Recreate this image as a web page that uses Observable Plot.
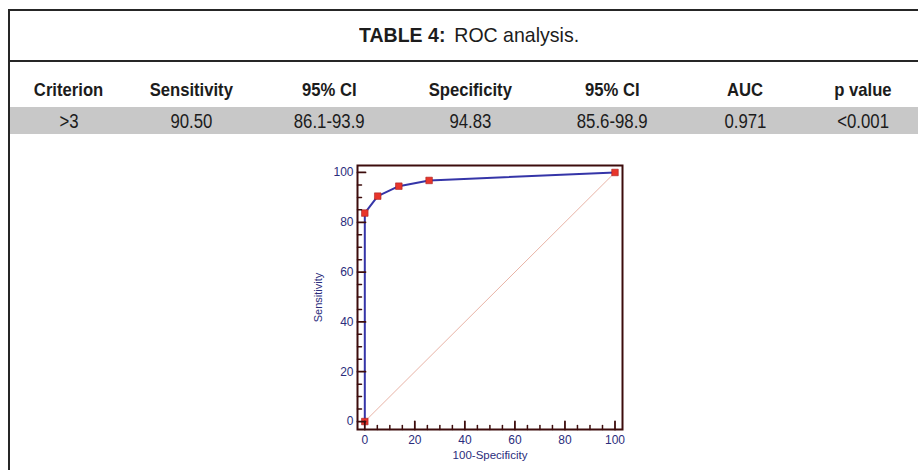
<!DOCTYPE html>
<html>
<head>
<meta charset="utf-8">
<script src="https://cdn.jsdelivr.net/npm/d3@7"></script>
<script src="https://cdn.jsdelivr.net/npm/@observablehq/plot@0.6"></script>
<style>
  html, body { margin: 0; padding: 0; background: #fff; }
  #page { position: relative; width: 918px; height: 470px; overflow: hidden; background: #fff;
          font-family: "Liberation Sans", Arial, Helvetica, sans-serif; color: #1c1c1c; }
  .hline { position: absolute; left: 8px; width: 910px; height: 2px; background: #262626; }
  .vline { position: absolute; left: 8px; top: 9px; width: 2px; height: 461px; background: #262626; }
  .title { position: absolute; left: 359px; top: 22px; font-size: 21px; line-height: 26px; white-space: nowrap;
           transform: scaleX(0.93); transform-origin: 0 50%; }
  .title b { font-weight: bold; display: inline-block; margin-right: 9.5px; }
  .cell { position: absolute; width: 200px; text-align: center; white-space: nowrap; }
  .cell span { display: inline-block; }
  .hdr { top: 79px; font-weight: bold; font-size: 18.5px; line-height: 22px; }
  .hdr span { transform: scaleX(0.9); }
  .val { top: 110px; font-size: 19.5px; line-height: 22px; }
  .val span { transform: scaleX(0.86); }
  .band { position: absolute; left: 10px; top: 107px; width: 908px; height: 27px; background: #c8c8c8; }
  #chart { position: absolute; left: 300px; top: 150px; }
</style>
</head>
<body>
<div id="page">
  <div class="hline" style="top:9px"></div>
  <div class="hline" style="top:60px"></div>
  <div class="vline"></div>
  <div class="band"></div>
  <div class="title" id="title"></div>
  <div id="table"></div>
  <div id="chart"></div>
</div>
<script>
// ---- table data ----
const titleBold = "TABLE 4:";
const titleText = "ROC analysis.";
const columns = ["Criterion", "Sensitivity", "95% CI", "Specificity", "95% CI", "AUC", "p value"];
const rowValues = [">3", "90.50", "86.1-93.9", "94.83", "85.6-98.9", "0.971", "<0.001"];
const columnCenters = [69, 191, 329, 470, 612, 745, 863];

// ---- ROC curve data ----
const oneMinusSpec = [0, 0, 5.17, 13.6, 25.7, 100];
const sensitivity = [0, 83.7, 90.5, 94.5, 96.8, 100];
const refX = [0, 100];
const refY = [0, 100];
const majorTicks = [0, 20, 40, 60, 80, 100];
const minorTicks = [5, 10, 15, 25, 30, 35, 45, 50, 55, 65, 70, 75, 85, 90, 95];
const xLabel = "100-Specificity";
const yLabel = "Sensitivity";

// title
const t = document.getElementById("title");
const tb = document.createElement("b"); tb.textContent = titleBold; t.appendChild(tb);
const tr = document.createElement("span"); tr.textContent = titleText; t.appendChild(tr);

// table
const tbl = document.getElementById("table");
columns.forEach((c, i) => {
  const h = document.createElement("div");
  h.className = "cell hdr"; h.style.left = (columnCenters[i] - 100) + "px";
  const hs = document.createElement("span"); hs.textContent = c; h.appendChild(hs);
  tbl.appendChild(h);
  const v = document.createElement("div");
  v.className = "cell val"; v.style.left = (columnCenters[i] - 100) + "px";
  const vs = document.createElement("span"); vs.textContent = rowValues[i]; v.appendChild(vs);
  tbl.appendChild(v);
});

// chart
const pts = oneMinusSpec.map((x, i) => ({x, y: sensitivity[i]}));
const diag = refX.map((x, i) => ({x, y: refY[i]}));
const tickShape = { draw(ctx, l) { ctx.moveTo(0, 0); ctx.lineTo(0, -l); } };
const frameColor = "#3d0c0c";
const navy = "#2b2d7c";

const chart = Plot.plot({
  width: 340, height: 320,
  marginLeft: 57, marginRight: 18, marginTop: 15, marginBottom: 41,
  x: {domain: [-2.92, 103], axis: null},
  y: {domain: [-3.2, 102.8], axis: null},
  style: {fontFamily: "Liberation Sans, Arial, sans-serif", color: navy, background: "transparent", overflow: "visible"},
  marks: [
    Plot.line(diag, {x: "x", y: "y", stroke: "#e2a08f", strokeWidth: 0.8}),
    Plot.line(pts, {x: "x", y: "y", stroke: "#3535a8", strokeWidth: 2}),
    Plot.dot(pts, {x: "x", y: "y", symbol: "square", r: 3.7, fill: "#e8352b", stroke: "#a82020", strokeWidth: 0.6}),
    Plot.frame({stroke: frameColor, strokeWidth: 2}),
    Plot.vector(majorTicks, {x: d => d, frameAnchor: "bottom", anchor: "start", rotate: 0, length: 8, shape: tickShape, stroke: frameColor, strokeWidth: 1.8}),
    Plot.vector(minorTicks, {x: d => d, frameAnchor: "bottom", anchor: "start", rotate: 0, length: 4, shape: tickShape, stroke: frameColor, strokeWidth: 1.5}),
    Plot.vector(majorTicks, {y: d => d, frameAnchor: "left", anchor: "start", rotate: 90, length: 8, shape: tickShape, stroke: frameColor, strokeWidth: 1.8}),
    Plot.vector(minorTicks, {y: d => d, frameAnchor: "left", anchor: "start", rotate: 90, length: 4, shape: tickShape, stroke: frameColor, strokeWidth: 1.5}),
    Plot.axisX(majorTicks, {tickSize: 0, tickPadding: 5.5, label: null, fontSize: 12}),
    Plot.axisY(majorTicks, {tickSize: 0, tickPadding: 4, label: null, fontSize: 12}),
    Plot.text([xLabel], {text: d => d, frameAnchor: "bottom", dy: 29, fontSize: 11.5, fill: navy}),
    Plot.text([yLabel], {text: d => d, frameAnchor: "left", dx: -39, rotate: -90, textAnchor: "middle", fontSize: 11, fill: navy})
  ]
});
document.getElementById("chart").appendChild(chart);
</script>
</body>
</html>
